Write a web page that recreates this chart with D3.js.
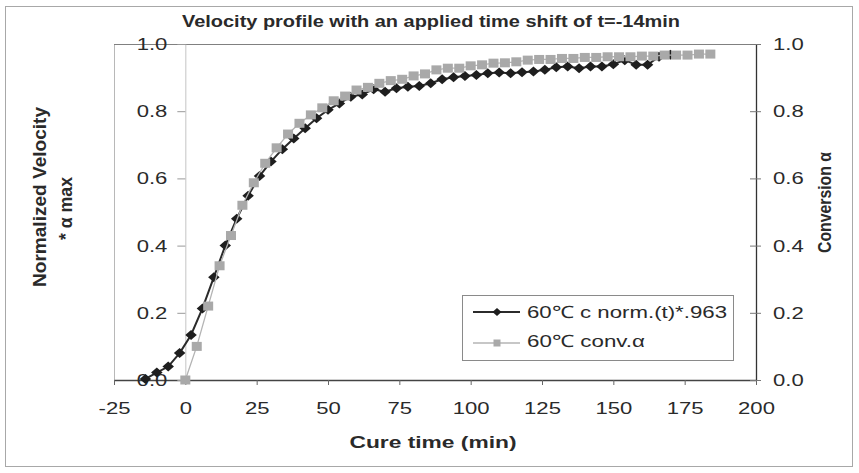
<!DOCTYPE html>
<html>
<head>
<meta charset="utf-8">
<script src="https://cdn.jsdelivr.net/npm/d3@7"></script>
<style>
  html, body { margin: 0; padding: 0; background: #fff; }
  svg { display: block; }
  text { font-family: "Liberation Sans", Arial, Helvetica, sans-serif; fill: #2a2a2a; }
</style>
</head>
<body>
<svg id="chart" width="859" height="473"></svg>
<script>
// ---- Data ----
const titleText = "Velocity profile with an applied time shift of t=-14min";
const xTicks = [-25, 0, 25, 50, 75, 100, 125, 150, 175, 200];
const yTicks = [0, 0.2, 0.4, 0.6, 0.8, 1.0];
const seriesNames = ["60\u2103 c norm.(t)*.963", "60\u2103 conv.\u03b1"];

// Series 1: normalized velocity (black diamonds), time shifted by -14 min
const velTime = [-14, -10, -6, -2, 2, 6, 10, 14, 18, 22,
                 26, 30, 34, 38, 42, 46, 50, 54, 58, 62,
                 66, 70, 74, 78, 82, 86, 90, 94, 98, 102,
                 106, 110, 114, 118, 122, 126, 130, 134, 138, 142,
                 146, 150, 154, 158, 162, 166, 170];
const velValue = [0.003, 0.022, 0.040, 0.080, 0.134, 0.213, 0.306, 0.400, 0.480, 0.548,
                  0.607, 0.650, 0.687, 0.719, 0.749, 0.779, 0.804, 0.823, 0.843, 0.850,
                  0.865, 0.858, 0.868, 0.873, 0.875, 0.883, 0.895, 0.901, 0.905, 0.908,
                  0.913, 0.915, 0.913, 0.916, 0.918, 0.923, 0.931, 0.933, 0.928, 0.933,
                  0.933, 0.940, 0.952, 0.938, 0.938, 0.962, 0.968];

// Series 2: conversion alpha (grey squares)
const convTime = [0, 4, 8, 12, 16, 20, 24, 28, 32, 36,
                  40, 44, 48, 52, 56, 60, 64, 68, 72, 76,
                  80, 84, 88, 92, 96, 100, 104, 108, 112, 116,
                  120, 124, 128, 132, 136, 140, 144, 148, 152, 156,
                  160, 164, 168, 172, 176, 180, 184];
const convValue = [0.000, 0.100, 0.220, 0.340, 0.430, 0.520, 0.587, 0.645, 0.691, 0.732,
                   0.764, 0.789, 0.810, 0.831, 0.845, 0.863, 0.871, 0.883, 0.891, 0.895,
                   0.905, 0.911, 0.923, 0.928, 0.928, 0.935, 0.938, 0.943, 0.944, 0.947,
                   0.952, 0.954, 0.954, 0.957, 0.957, 0.960, 0.960, 0.962, 0.962, 0.962,
                   0.964, 0.964, 0.967, 0.967, 0.967, 0.970, 0.970];

// ---- Chart ----
const svg = d3.select("#chart");
const SX = 1.3; // horizontal stretch of the scanned text

const x = d3.scaleLinear().domain([-25, 200]).range([114, 756]);
const y = d3.scaleLinear().domain([0, 1]).range([380, 44]);

function stretch(sel, s) {
  sel.each(function () {
    const t = d3.select(this);
    const tx = +t.attr("x") || 0;
    t.attr("transform", `translate(${tx},0) scale(${s},1) translate(${-tx},0)`);
  });
}

// outer frame
svg.append("rect").attr("x", 5.5).attr("y", 6.5).attr("width", 847).attr("height", 460)
  .attr("fill", "#fff").attr("stroke", "#a8a8a8").attr("stroke-width", 1);

// plot area border (left & top)
svg.append("line").attr("x1", 114.5).attr("x2", 114.5).attr("y1", 44).attr("y2", 380)
  .attr("stroke", "#b8b8b8").attr("stroke-width", 1);
svg.append("line").attr("x1", 114).attr("x2", 756).attr("y1", 44.5).attr("y2", 44.5)
  .attr("stroke", "#808080").attr("stroke-width", 1.2);

// title
svg.append("text").attr("x", 431).attr("y", 27).attr("text-anchor", "middle")
  .attr("font-size", 16).attr("font-weight", "bold")
  .attr("textLength", 498).attr("lengthAdjust", "spacingAndGlyphs")
  .text(titleText);

// x axis
const gx = svg.append("g").attr("transform", `translate(0,${y(0)})`)
  .call(d3.axisBottom(x).tickValues(xTicks).tickFormat(d => String(d))
    .tickSizeInner(5).tickSizeOuter(0).tickPadding(17));
gx.select(".domain").attr("stroke", "#444").attr("stroke-width", 1.3);
gx.selectAll(".tick line").attr("stroke", "#666");
gx.selectAll("text").attr("font-size", 17).attr("fill", "#2a2a2a").attr("font-family", null);
stretch(gx.selectAll("text"), SX);

// left value axis at x = 0
const gl = svg.append("g").attr("transform", `translate(${x(0)},0)`)
  .call(d3.axisLeft(y).tickValues(yTicks).tickFormat(d3.format(".1f"))
    .tickSizeInner(8).tickSizeOuter(0).tickPadding(10));
gl.select(".domain").attr("stroke", "#c4c4c4").attr("stroke-width", 1);
gl.selectAll(".tick line").attr("stroke", "#999");
gl.selectAll("text").attr("font-size", 17).attr("fill", "#2a2a2a").attr("font-family", null);
stretch(gl.selectAll("text"), SX);

// right axis
const gr = svg.append("g").attr("transform", `translate(${x(200)},0)`)
  .call(d3.axisRight(y).tickValues(yTicks).tickFormat(d3.format(".1f"))
    .tickSizeInner(5).tickSizeOuter(0).tickPadding(12));
gr.select(".domain").attr("stroke", "#333").attr("stroke-width", 1.3);
gr.selectAll(".tick line").attr("x1", -6).attr("stroke", "#777");
gr.selectAll("text").attr("font-size", 17).attr("fill", "#2a2a2a").attr("font-family", null);
stretch(gr.selectAll("text"), SX);

// axis titles
svg.append("text").attr("x", 433).attr("y", 448).attr("text-anchor", "middle")
  .attr("font-size", 16.5).attr("font-weight", "bold")
  .attr("textLength", 167).attr("lengthAdjust", "spacingAndGlyphs")
  .text("Cure time (min)");

function vtext(cx, cy, len, str, size) {
  svg.append("g").attr("transform", `translate(${cx},${cy}) rotate(-90) scale(1,1.25)`)
    .append("text").attr("x", 0).attr("y", 0).attr("text-anchor", "middle")
    .attr("font-size", size).attr("font-weight", "bold")
    .attr("textLength", len).attr("lengthAdjust", "spacingAndGlyphs")
    .text(str);
}
vtext(46, 197, 180, "Normalized Velocity", 14.5);
vtext(72, 208.5, 63, "* \u03b1 max", 14.5);
vtext(831, 202.5, 101, "Conversion \u03b1", 14.5);

// ---- series ----
const velData = velTime.map((t, i) => ({ t, v: velValue[i] }));
const convData = convTime.map((t, i) => ({ t, v: convValue[i] }));
const line = d3.line().x(d => x(d.t)).y(d => y(d.v));

const diamond = (w, h) => `M0,${-h / 2}L${w / 2},0L0,${h / 2}L${-w / 2},0Z`;

svg.append("path").datum(velData).attr("d", line)
  .attr("fill", "none").attr("stroke", "#2b2b2b").attr("stroke-width", 2);
svg.append("g").selectAll("path").data(velData).join("path")
  .attr("transform", d => `translate(${x(d.t)},${y(d.v)})`)
  .attr("d", diamond(11.5, 10)).attr("fill", "#1e1e1e");

svg.append("path").datum(convData).attr("d", line)
  .attr("fill", "none").attr("stroke", "#b4b4b4").attr("stroke-width", 1.3);
svg.append("g").selectAll("rect").data(convData).join("rect")
  .attr("x", d => x(d.t) - 5).attr("y", d => y(d.v) - 4.5)
  .attr("width", 10).attr("height", 9).attr("fill", "#a9a9a9");

// ---- legend ----
const lg = svg.append("g");
lg.append("rect").attr("x", 462.5).attr("y", 295.5).attr("width", 271).attr("height", 65)
  .attr("fill", "#fff").attr("stroke", "#8a8a8a").attr("stroke-width", 1);
lg.append("line").attr("x1", 473).attr("x2", 520).attr("y1", 312).attr("y2", 312)
  .attr("stroke", "#2b2b2b").attr("stroke-width", 2);
lg.append("path").attr("transform", "translate(497,312)").attr("d", diamond(9, 8)).attr("fill", "#1e1e1e");
lg.append("line").attr("x1", 473).attr("x2", 520).attr("y1", 343).attr("y2", 343)
  .attr("stroke", "#b4b4b4").attr("stroke-width", 1.3);
lg.append("rect").attr("x", 493.5).attr("y", 339.5).attr("width", 7).attr("height", 7).attr("fill", "#a9a9a9");
lg.append("text").attr("x", 527).attr("y", 318).attr("font-size", 17)
  .attr("textLength", 200).attr("lengthAdjust", "spacingAndGlyphs").text(seriesNames[0]);
lg.append("text").attr("x", 527).attr("y", 347).attr("font-size", 17)
  .attr("textLength", 118).attr("lengthAdjust", "spacingAndGlyphs").text(seriesNames[1]);
</script>
</body>
</html>
